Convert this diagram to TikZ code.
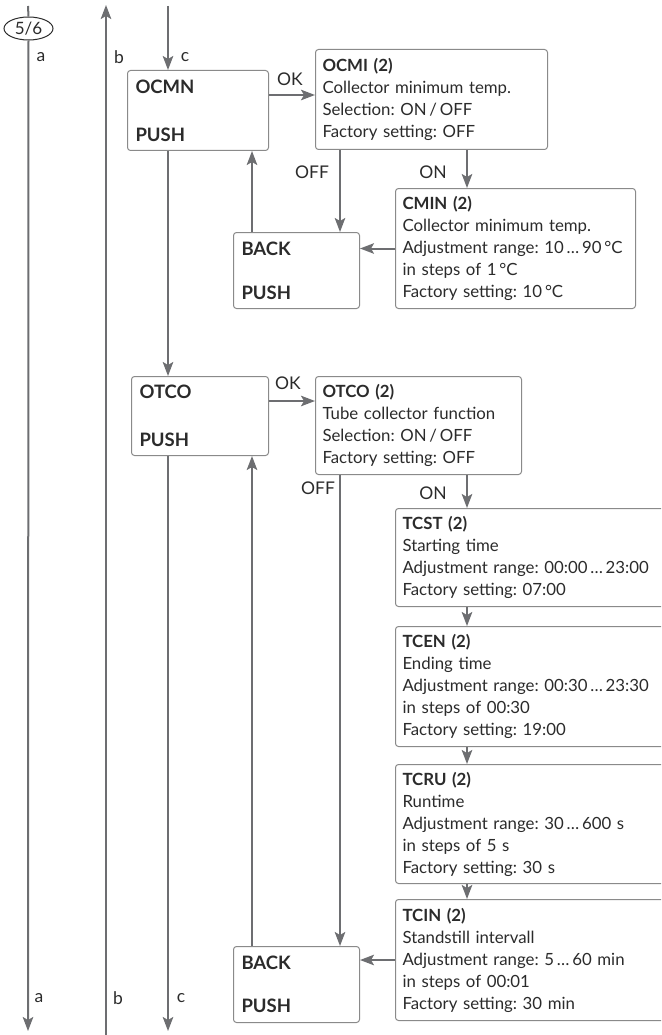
\documentclass[tikz,border=0pt]{standalone}
\usepackage{fontspec}
\setmainfont{Lato}
\usepackage{tikz}
\usetikzlibrary{arrows.meta, shapes.geometric, positioning, calc}
\usepackage{xcolor}
\definecolor{linegray}{HTML}{6D6E71}
\definecolor{boxgray}{HTML}{8A8A8A}
\definecolor{txt}{HTML}{2B2B2B}
\frenchspacing
\tikzset{
  menubox/.style={
    rectangle, rounded corners=3pt, draw=boxgray, line width=1pt,
    fill=white, anchor=north west, inner xsep=8pt, inner ysep=0pt,
    align=left, text=txt, font=\fontsize{18.5}{22}\selectfont\bfseries
  },
  parbox/.style={
    rectangle, rounded corners=3pt, draw=boxgray, line width=1pt,
    fill=white, anchor=north west, inner xsep=7pt, inner ysep=0pt,
    align=left, text=txt, font=\fontsize{16.8}{22}\selectfont
  },
  arrow/.style={-{Stealth[length=14pt,width=10.5pt,inset=3pt]}, line width=2pt, draw=linegray},
  plain/.style={line width=2pt, draw=linegray},
  lbl/.style={text=txt, font=\fontsize{17.5}{18}\selectfont, inner sep=0pt}
}

\begin{document}
\begin{tikzpicture}[x=1pt, y=-1pt]
  \useasboundingbox (0,0) rectangle (661,1035);
  \clip (0,0) rectangle (661,1035);

  % fixed points of the side lines
  \coordinate (atop) at (28,6);
  \coordinate (abot) at (28,1031);
  \coordinate (btop) at (106,5);
  \coordinate (bbot) at (106,1035);
  \coordinate (ctop) at (168,6);
  \coordinate (cbot) at (168,1031);
  \coordinate (ok1) at (0,95);
  \coordinate (ok2) at (0,401);
  \coordinate (xup) at (252,0);
  \coordinate (xoff) at (340,0);
  \coordinate (xon) at (467,0);

  % menu entries
  \node[menubox, minimum width=141pt, minimum height=80pt, text width=125pt] (ocmn) at (127,70)
    {OCMN\\[26pt]PUSH};
  \node[parbox, minimum width=232pt, minimum height=100pt, text width=218pt] (ocmi) at (315,49)
    {\textbf{OCMI (2)}\\Collector minimum temp.\\Selection: ON\,/\,OFF\\Factory setting: OFF};
  \node[parbox, minimum width=240pt, minimum height=120pt, text width=226pt] (cmin) at (395,188)
    {\textbf{CMIN (2)}\\Collector minimum temp.\\Adjustment range: 10\,…\,90\,°C\\in steps of 1\,°C\\Factory setting: 10\,°C};
  \node[menubox, minimum width=126pt, minimum height=76pt, text width=110pt] (back1) at (233,232)
    {BACK\\[22pt]PUSH};

  \node[menubox, minimum width=137pt, minimum height=79pt, text width=121pt] (otco) at (131,376)
    {OTCO\\[26pt]PUSH};
  \node[parbox, minimum width=206pt, minimum height=98pt, text width=192pt] (otco2) at (315,376)
    {\textbf{OTCO (2)}\\Tube collector function\\Selection: ON\,/\,OFF\\Factory setting: OFF};
  \node[parbox, minimum width=300pt, minimum height=98pt, text width=286pt] (tcst) at (395,508)
    {\textbf{TCST (2)}\\Starting time\\Adjustment range: 00:00\,…\,23:00\\Factory setting: 07:00};
  \node[parbox, minimum width=300pt, minimum height=120pt, text width=286pt] (tcen) at (395,626)
    {\textbf{TCEN (2)}\\Ending time\\Adjustment range: 00:30\,…\,23:30\\in steps of 00:30\\Factory setting: 19:00};
  \node[parbox, minimum width=300pt, minimum height=119pt, text width=286pt] (tcru) at (395,764)
    {\textbf{TCRU (2)}\\Runtime\\Adjustment range: 30\,…\,600 s\\in steps of 5 s\\Factory setting: 30 s};
  \node[parbox, minimum width=300pt, minimum height=121pt, text width=286pt] (tcin) at (395,899)
    {\textbf{TCIN (2)}\\Standstill intervall\\Adjustment range: 5\,…\,60 min\\in steps of 00:01\\Factory setting: 30 min};
  \node[menubox, minimum width=126pt, minimum height=76pt, text width=110pt] (back2) at (233,946)
    {BACK\\[21pt]PUSH};

  % side lines a, b, c
  \node[ellipse, draw=txt, line width=1pt, fill=white, minimum width=49pt, minimum height=23pt,
        inner sep=0pt, text=txt, font=\fontsize{17}{18}\selectfont] (page) at (28.5,28.5) {5/6};
  \draw[plain] (atop) -- (page.north);
  \draw[arrow] (page.south) -- (abot);
  \draw[arrow] (bbot) -- (btop);
  \draw[arrow] (ctop) -- (ctop |- ocmn.north);
  \draw[arrow] (otco.south -| cbot) -- (cbot);

  \node[lbl] (la1) at (41,57) {a};
  \node[lbl] (lb1) at (119,57) {b};
  \node[lbl] (lc1) at (185,57) {c};
  \node[lbl] (la2) at (39,998) {a};
  \node[lbl] (lb2) at (118,998) {b};
  \node[lbl] (lc2) at (181,998) {c};

  % first block
  \draw[arrow] (ocmn.east |- ok1) -- (ocmi.west |- ok1);
  \draw[arrow] (ocmi.south -| xon) -- (cmin.north -| xon);
  \draw[arrow] (ocmi.south -| xoff) -- (back1.north -| xoff);
  \draw[arrow] (cmin.west) -- (cmin.west -| back1.east);
  \draw[arrow] (back1.north -| xup) -- (ocmn.south -| xup);
  \draw[arrow] (ocmn.south -| ctop) -- (otco.north -| ctop);
  \node[lbl] (ok1l) at (290,79) {OK};
  \node[lbl] (off1l) at (312,172) {OFF};
  \node[lbl] (on1l) at (433,172) {ON};

  % second block
  \draw[arrow] (otco.east |- ok2) -- (otco2.west |- ok2);
  \draw[arrow] (otco2.south -| xon) -- (tcst.north -| xon);
  \draw[arrow] (otco2.south -| xoff) -- (back2.north -| xoff);
  \draw[arrow] (tcst.south -| xon) -- (tcen.north -| xon);
  \draw[arrow] (tcen.south -| xon) -- (tcru.north -| xon);
  \draw[arrow] (tcru.south -| xon) -- (tcin.north -| xon);
  \draw[arrow] (tcin.west) -- (tcin.west -| back2.east);
  \draw[arrow] (back2.north -| xup) -- (otco.south -| xup);
  \node[lbl] (ok2l) at (288,383) {OK};
  \node[lbl] (off2l) at (318,488) {OFF};
  \node[lbl] (on2l) at (433,493) {ON};
\end{tikzpicture}
\end{document}
